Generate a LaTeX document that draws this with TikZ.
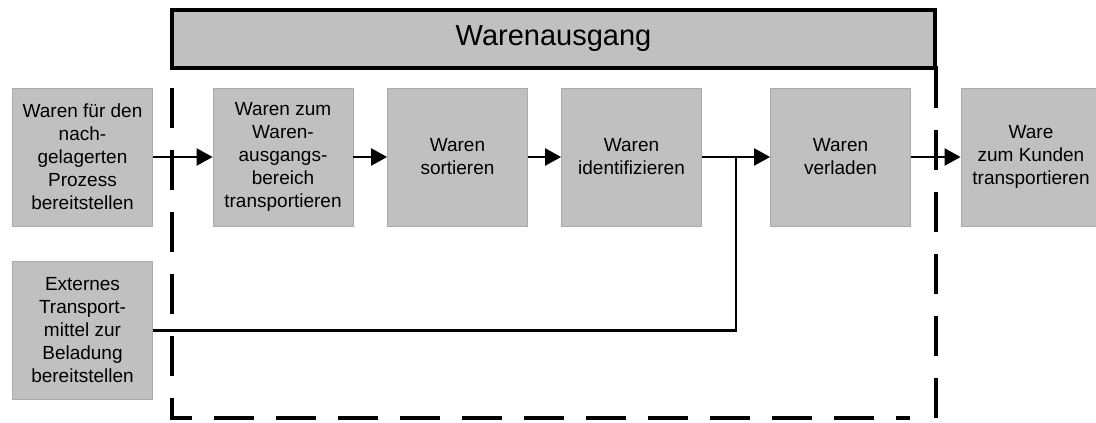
\documentclass[tikz,border=0pt]{standalone}
\usepackage{fontspec}
\setmainfont{Liberation Sans}
\usetikzlibrary{arrows.meta}
\definecolor{boxgray}{RGB}{192,192,192}
\definecolor{boxedge}{RGB}{170,170,170}
\begin{document}
\begin{tikzpicture}[x=1pt,y=-1pt,
  proc/.style={rectangle, fill=boxgray, draw=boxedge, line width=0.8pt,
    minimum width=140pt, minimum height=138pt, inner sep=0pt, align=center,
    font=\fontsize{19}{23}\selectfont},
  flow/.style={line width=2.3pt, -{Triangle[length=16pt,width=17pt]}},
  plain/.style={line width=2.3pt},
  frame/.style={line width=4pt, dash pattern=on 40pt off 22pt}]
\useasboundingbox (0,0) rectangle (1096,423);
% title box
\node[rectangle, fill=boxgray, draw=black, line width=4pt, minimum width=763pt,
  minimum height=58pt, inner sep=0pt, font=\fontsize{29}{34}\selectfont]
  (title) at (553.5,39) {Warenausgang};
% dashed frame
\draw[frame, dash phase=42pt] (172,68) -- (172,418) -- (910,418);
\draw[frame, dash phase=39pt] (936,107) -- (936,420);
\draw[line width=4pt] (936,66) -- (936,107);
% process boxes
\node[proc] (b1) at (82.5,157) {Waren für den\\nach-\\gelagerten\\Prozess\\bereitstellen};
\node[proc] (b2) at (283,157) {Waren zum\\Waren-\\ausgangs-\\bereich\\transportieren};
\node[proc] (b3) at (457.5,157) {Waren\\sortieren};
\node[proc] (b4) at (631.5,157) {Waren\\identifizieren};
\node[proc] (b5) at (840.5,157) {Waren\\verladen};
\node[proc] (b6) at (1031,157) {Ware\\zum Kunden\\transportieren};
\node[proc] (b7) at (82.5,330.5) {Externes\\Transport-\\mittel zur\\Beladung\\bereitstellen};
\coordinate (j) at (736,157);
% connectors
\draw[flow] (b1) -- (b2);
\draw[flow] (b2) -- (b3);
\draw[flow] (b3) -- (b4);
\draw[flow] (b4) -- (b5);
\draw[flow] (b5) -- (b6);
\draw[plain] (b7.east) -| (j);
\end{tikzpicture}
\end{document}
